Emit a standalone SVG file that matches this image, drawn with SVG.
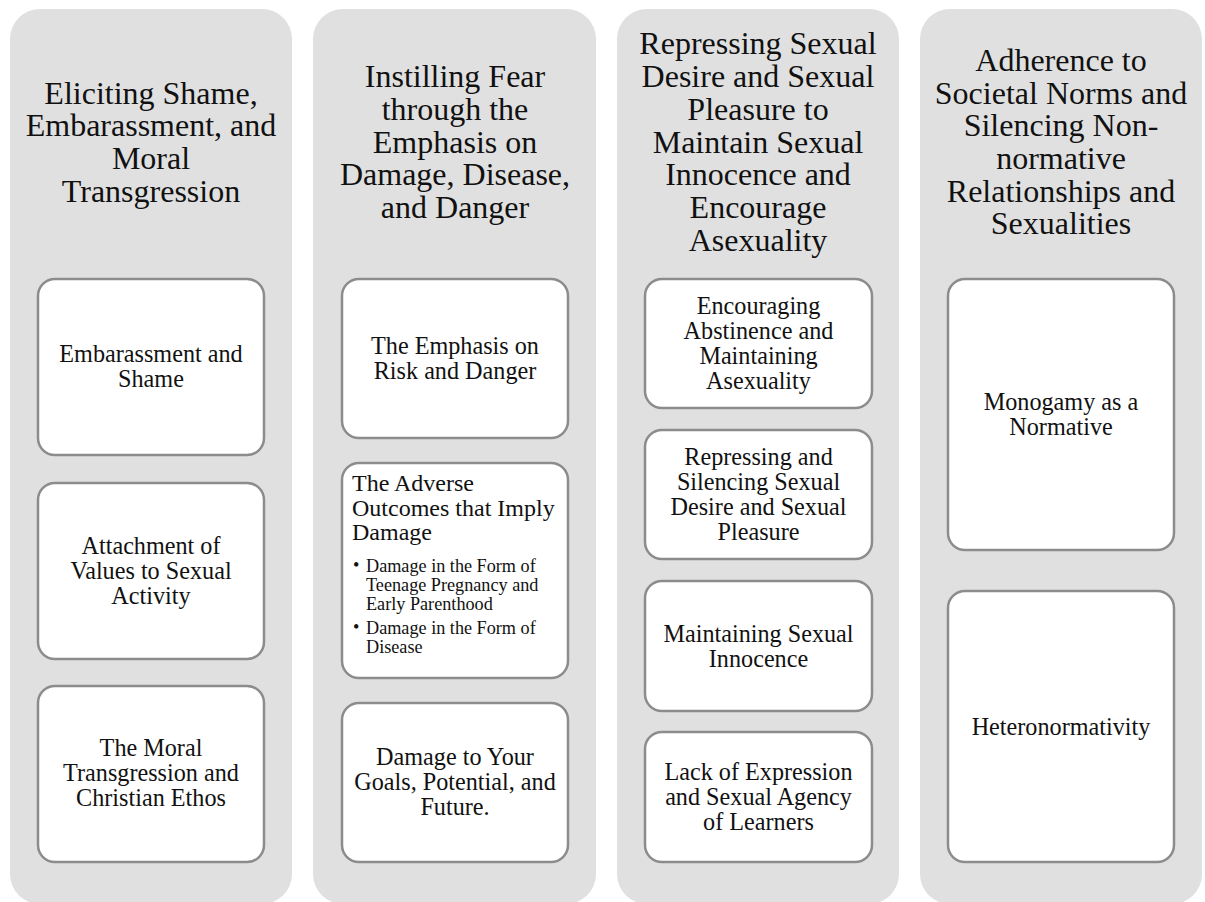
<svg xmlns="http://www.w3.org/2000/svg" width="1205" height="902" viewBox="0 0 1205 902">
<style>
.col{fill:#e0e0e0;stroke:none}
.box{fill:#ffffff;stroke:#8c8c8c;stroke-width:2.5}
.h{font-family:"Liberation Serif","Times New Roman",serif;font-size:32px;fill:#111;text-anchor:middle}
.t{font-family:"Liberation Serif","Times New Roman",serif;font-size:24.2px;fill:#111;text-anchor:middle}
.tl{font-family:"Liberation Serif","Times New Roman",serif;font-size:24px;fill:#111}
.b{font-family:"Liberation Serif","Times New Roman",serif;font-size:18.2px;fill:#111}
</style>
<rect width="1205" height="902" fill="#ffffff"/>
<g id="col1">
<rect class="col" x="10" y="9" width="282" height="895" rx="30"/>
<text class="h" x="151"><tspan x="151" y="103.5">Eliciting Shame,</tspan><tspan x="151" y="136.2">Embarassment, and</tspan><tspan x="151" y="168.8">Moral</tspan><tspan x="151" y="201.5">Transgression</tspan></text>
</g>
<g id="col2">
<rect class="col" x="313" y="9" width="283" height="895" rx="30"/>
<text class="h"><tspan x="455" y="87.1">Instilling Fear</tspan><tspan x="455" y="119.8">through the</tspan><tspan x="455" y="152.5">Emphasis on</tspan><tspan x="455" y="185.2">Damage, Disease,</tspan><tspan x="455" y="217.9">and Danger</tspan></text>
</g>
<g id="col3">
<rect class="col" x="617" y="9" width="282" height="895" rx="30"/>
<text class="h"><tspan x="758" y="54.4">Repressing Sexual</tspan><tspan x="758" y="87.1">Desire and Sexual</tspan><tspan x="758" y="119.8">Pleasure to</tspan><tspan x="758" y="152.5">Maintain Sexual</tspan><tspan x="758" y="185.2">Innocence and</tspan><tspan x="758" y="217.9">Encourage</tspan><tspan x="758" y="250.6">Asexuality</tspan></text>
</g>
<g id="col4">
<rect class="col" x="920" y="9" width="282" height="895" rx="30"/>
<text class="h"><tspan x="1061" y="70.8">Adherence to</tspan><tspan x="1061" y="103.5">Societal Norms and</tspan><tspan x="1061" y="136.2">Silencing Non-</tspan><tspan x="1061" y="168.9">normative</tspan><tspan x="1061" y="201.6">Relationships and</tspan><tspan x="1061" y="234.3">Sexualities</tspan></text>
</g>
<g id="c1b1">
<rect class="box" x="38" y="279" width="226" height="176" rx="17"/>
<text class="t"><tspan x="151" y="362">Embarassment and</tspan><tspan x="151" y="387">Shame</tspan></text>
</g>
<g id="c1b2">
<rect class="box" x="38" y="483" width="226" height="176" rx="17"/>
<text class="t"><tspan x="151" y="554">Attachment of</tspan><tspan x="151" y="579">Values to Sexual</tspan><tspan x="151" y="604">Activity</tspan></text>
</g>
<g id="c1b3">
<rect class="box" x="38" y="686" width="226" height="176" rx="17"/>
<text class="t"><tspan x="151" y="756">The Moral</tspan><tspan x="151" y="781">Transgression and</tspan><tspan x="151" y="806">Christian Ethos</tspan></text>
</g>
<g id="c2b1">
<rect class="box" x="342" y="279" width="226" height="159" rx="17"/>
<text class="t"><tspan x="455" y="354">The Emphasis on</tspan><tspan x="455" y="379">Risk and Danger</tspan></text>
</g>
<g id="c2b2">
<rect class="box" x="342" y="463" width="226" height="215" rx="17"/>
<text class="tl"><tspan x="352" y="491">The Adverse</tspan><tspan x="352" y="515.5">Outcomes that Imply</tspan><tspan x="352" y="540">Damage</tspan></text>
<text class="b"><tspan x="353" y="571">•</tspan><tspan x="366" y="572">Damage in the Form of</tspan><tspan x="366" y="591">Teenage Pregnancy and</tspan><tspan x="366" y="610">Early Parenthood</tspan><tspan x="353" y="633">•</tspan><tspan x="366" y="634">Damage in the Form of</tspan><tspan x="366" y="653">Disease</tspan></text>
</g>
<g id="c2b3">
<rect class="box" x="342" y="703" width="226" height="159" rx="17"/>
<text class="t"><tspan x="455" y="765">Damage to Your</tspan><tspan x="455" y="790">Goals, Potential, and</tspan><tspan x="455" y="815">Future.</tspan></text>
</g>
<g id="c3b1">
<rect class="box" x="645" y="279" width="227" height="129" rx="17"/>
<text class="t"><tspan x="758.5" y="314">Encouraging</tspan><tspan x="758.5" y="339">Abstinence and</tspan><tspan x="758.5" y="364">Maintaining</tspan><tspan x="758.5" y="389">Asexuality</tspan></text>
</g>
<g id="c3b2">
<rect class="box" x="645" y="430" width="227" height="129" rx="17"/>
<text class="t"><tspan x="758.5" y="465">Repressing and</tspan><tspan x="758.5" y="490">Silencing Sexual</tspan><tspan x="758.5" y="515">Desire and Sexual</tspan><tspan x="758.5" y="540">Pleasure</tspan></text>
</g>
<g id="c3b3">
<rect class="box" x="645" y="581" width="227" height="130" rx="17"/>
<text class="t"><tspan x="758.5" y="641.5">Maintaining Sexual</tspan><tspan x="758.5" y="666.5">Innocence</tspan></text>
</g>
<g id="c3b4">
<rect class="box" x="645" y="732" width="227" height="130" rx="17"/>
<text class="t"><tspan x="758.5" y="780">Lack of Expression</tspan><tspan x="758.5" y="805">and Sexual Agency</tspan><tspan x="758.5" y="830">of Learners</tspan></text>
</g>
<g id="c4b1">
<rect class="box" x="948" y="279" width="226" height="271" rx="17"/>
<text class="t"><tspan x="1061" y="410">Monogamy as a</tspan><tspan x="1061" y="435">Normative</tspan></text>
</g>
<g id="c4b2">
<rect class="box" x="948" y="591" width="226" height="271" rx="17"/>
<text class="t"><tspan x="1061" y="735">Heteronormativity</tspan></text>
</g>
<g id="connectors"></g>
</svg>
